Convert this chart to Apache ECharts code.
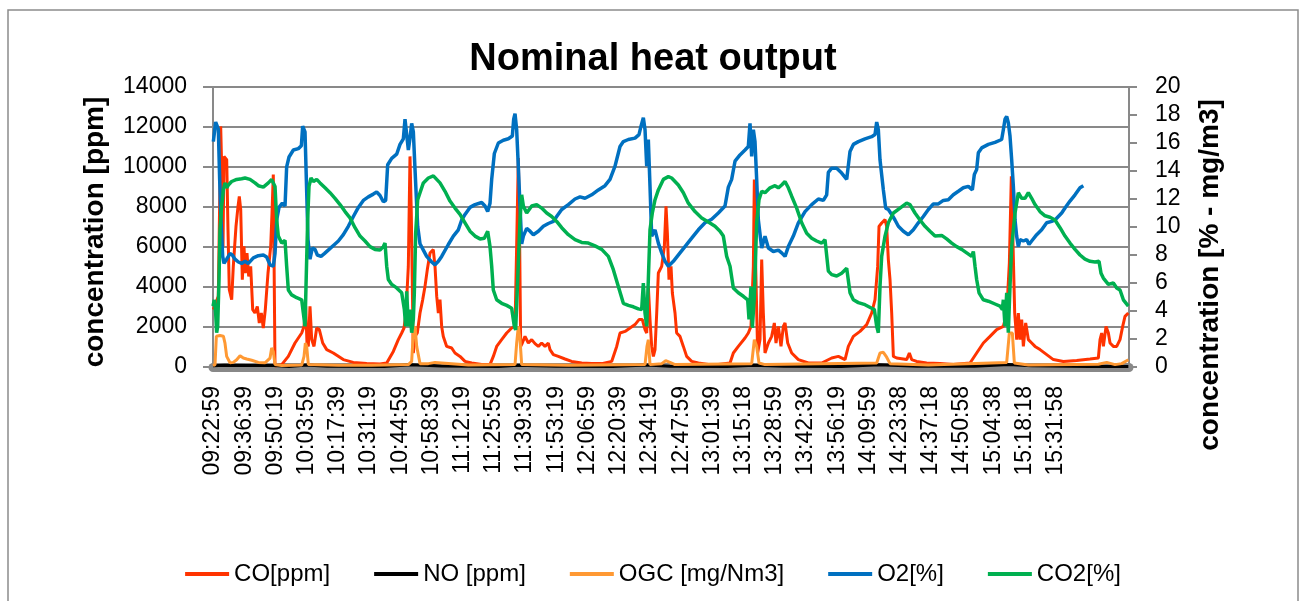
<!DOCTYPE html>
<html>
<head>
<meta charset="utf-8">
<script src="https://cdn.jsdelivr.net/npm/echarts@6/dist/echarts.min.js"></script>
<style>html,body{margin:0;padding:0;background:#fff}#c{width:1306px;height:601px}</style>
</head>
<body>
<div id="c"></div>
<script>
// time axis: seconds since 09:22:59, label every 820 s
var tickLabels = ['09:22:59','09:36:39','09:50:19','10:03:59','10:17:39','10:31:19','10:44:59','10:58:39','11:12:19','11:25:59','11:39:39','11:53:19','12:06:59','12:20:39','12:34:19','12:47:59','13:01:39','13:15:18','13:28:59','13:42:39','13:56:19','14:09:59','14:23:38','14:37:18','14:50:58','15:04:38','15:18:18','15:31:58'];
var tickStep = 820;
var timeEnd = 24063;

var seriesNames = ['CO[ppm]','NO [ppm]','OGC [mg/Nm3]','O2[%]','CO2[%]'];

var coPpm = [[8,2870],[139,3530],[184,9370],[202,12030],[236,9370],[263,6030],[289,10530],[360,10370],[394,6870],[428,3870],[491,3370],[533,5030],[604,7030],[657,8030],[691,8530],[728,7870],[770,4370],[814,6030],[849,4700],[893,5700],[938,4530],[990,5030],[1043,2870],[1103,2700],[1164,3030],[1216,2200],[1269,2700],[1321,1950],[1374,2870],[1445,4700],[1516,6030],[1550,7700],[1584,9620],[1629,50],[1805,120],[1978,530],[2154,1200],[2330,1700],[2391,2030],[2435,3030],[2469,1200],[2504,1030],[2548,3030],[2593,1370],[2653,1030],[2724,1950],[2793,1870],[2882,1200],[2987,870],[3160,700],[3423,370],[3686,230],[4038,170],[4387,150],[4563,200],[4737,780],[4868,1370],[4957,1700],[5018,1950],[5070,2700],[5131,5030],[5175,10530],[5209,7700],[5262,700],[5307,1530],[5367,1700],[5438,2700],[5509,3370],[5569,4030],[5630,4870],[5701,5700],[5787,5870],[5832,5030],[5877,3530],[5920,2700],[5963,3370],[6007,2030],[6050,1530],[6139,1030],[6270,950],[6357,700],[6489,530],[6620,280],[6795,200],[7058,120],[7277,120],[7364,530],[7452,1030],[7583,1370],[7715,1700],[7846,1950],[7934,2030],[7977,6030],[8021,10450],[8048,7700],[8083,1030],[8126,1200],[8196,1530],[8284,1200],[8372,1370],[8459,1170],[8547,1030],[8634,1200],[8722,1030],[8809,1200],[8853,870],[8941,620],[9072,530],[9247,400],[9422,280],[9685,200],[9948,170],[10211,170],[10473,280],[10605,1030],[10692,1700],[10824,1780],[10955,1950],[11086,2120],[11191,2370],[11279,2370],[11349,1870],[11393,1700],[11436,4030],[11480,2370],[11524,1030],[11568,530],[11612,870],[11656,2700],[11699,4700],[11787,5030],[11857,6030],[11901,8030],[11936,6700],[11979,4370],[12032,5030],[12067,3700],[12137,2700],[12180,1700],[12268,1530],[12356,1030],[12443,530],[12575,280],[12750,200],[13012,120],[13275,120],[13582,200],[13669,700],[13800,1030],[13976,1450],[14063,1700],[14133,2030],[14195,5030],[14221,9370],[14256,5030],[14308,700],[14370,1370],[14414,5370],[14457,2700],[14501,700],[14589,1200],[14676,1530],[14746,2200],[14790,1200],[14851,2030],[14921,1030],[14983,2030],[15027,2200],[15097,1200],[15202,700],[15377,370],[15640,200],[15990,200],[16253,450],[16428,530],[16603,370],[16690,1030],[16822,1530],[16997,1780],[17172,2120],[17303,2700],[17391,3370],[17461,5030],[17496,7030],[17566,7200],[17654,7370],[17697,7030],[17741,5370],[17785,4370],[17829,2700],[17873,530],[17960,450],[18223,370],[18293,700],[18354,370],[18485,280],[18748,200],[19098,170],[19449,120],[19887,200],[20061,700],[20237,1200],[20412,1530],[20587,1870],[20762,2030],[20850,2700],[20920,5200],[20972,9530],[21007,6870],[21060,2700],[21113,1370],[21156,2700],[21200,1370],[21244,2370],[21288,1030],[21349,2200],[21419,1370],[21507,1200],[21594,1030],[21726,870],[21901,620],[22076,370],[22338,280],[22689,330],[23039,400],[23258,450],[23302,1370],[23346,1700],[23390,1030],[23460,2030],[23521,1700],[23565,1200],[23652,1030],[23740,1030],[23827,1370],[23897,2030],[23958,2530],[24046,2700]];

var noPpm = [[0,60],[300,90],[900,70],[1600,80],[2000,30],[2450,100],[3000,40],[4500,30],[5200,110],[6000,50],[7500,30],[8000,90],[9000,40],[10500,30],[11400,100],[12000,40],[13500,30],[14200,90],[15000,40],[16500,30],[17500,110],[18500,40],[20000,40],[20900,120],[21500,60],[23000,30],[24046,30]];

var ogcMg = [[0,0.1],[53,0.17],[88,2.2],[184,2.25],[272,2.2],[315,1.7],[359,0.76],[403,0.64],[447,0.3],[534,0.33],[622,0.52],[710,0.8],[797,0.64],[885,0.57],[1016,0.48],[1191,0.33],[1366,0.3],[1498,0.64],[1541,1.36],[1585,1.1],[1629,0.17],[1804,0.1],[2330,0.14],[2391,0.76],[2426,1.7],[2461,1.48],[2505,0.17],[3293,0.12],[4169,0.12],[5132,0.17],[5219,0.4],[5263,2.45],[5307,2.9],[5351,1.48],[5438,0.24],[5657,0.24],[5832,0.33],[6708,0.14],[7934,0.17],[7977,1.7],[8021,2.9],[8065,1.95],[8109,0.17],[9335,0.12],[11349,0.17],[11401,1.48],[11436,1.95],[11480,0.17],[11787,0.24],[11892,0.45],[12006,0.33],[12137,0.17],[14151,0.24],[14221,1.95],[14282,1.48],[14343,0.29],[14501,0.17],[17435,0.29],[17522,1.0],[17610,1.05],[17697,0.7],[17785,0.24],[18792,0.14],[20850,0.33],[20920,2.43],[20999,2.43],[21051,0.29],[21419,0.14],[23258,0.2],[23477,0.33],[23696,0.17],[23872,0.24],[24046,0.52]];

var o2Pct = [[9,16.1],[70,17.5],[105,17.4],[140,17.0],[175,13.4],[210,10.5],[254,7.9],[289,7.4],[359,7.7],[447,8.1],[508,8.0],[578,7.7],[666,7.5],[753,7.4],[841,7.55],[928,7.4],[1060,7.8],[1191,7.95],[1322,8.0],[1410,7.85],[1498,7.3],[1585,7.2],[1629,8.1],[1673,10.5],[1734,11.4],[1822,11.7],[1892,11.5],[1935,14.3],[1997,15.0],[2111,15.5],[2242,15.6],[2321,15.8],[2356,17.2],[2382,17.3],[2417,16.8],[2452,13.4],[2496,9.1],[2548,7.7],[2610,8.5],[2680,8.4],[2741,8.0],[2838,7.9],[2925,8.1],[3048,8.4],[3170,8.7],[3293,9.0],[3424,9.45],[3555,10.05],[3687,10.75],[3818,11.4],[3949,11.9],[4081,12.15],[4212,12.35],[4300,12.5],[4387,12.25],[4475,11.8],[4536,11.9],[4589,14.45],[4694,14.9],[4825,15.2],[4913,15.9],[5000,16.3],[5044,17.7],[5088,16.6],[5132,15.5],[5176,16.35],[5219,17.4],[5263,16.8],[5307,14.1],[5377,10.05],[5438,8.8],[5526,8.35],[5613,7.9],[5745,7.5],[5832,7.3],[5920,7.55],[6007,7.9],[6182,8.75],[6314,9.35],[6445,9.8],[6533,10.5],[6620,10.9],[6751,11.4],[6883,11.6],[7058,11.75],[7146,11.5],[7216,11.1],[7277,11.7],[7321,13.4],[7391,15.25],[7496,16.0],[7627,16.2],[7759,16.3],[7864,16.5],[7899,17.7],[7934,18.1],[7977,16.95],[8021,14.3],[8065,11.5],[8109,8.8],[8153,9.35],[8240,9.9],[8328,9.7],[8415,9.45],[8547,9.7],[8678,10.05],[8809,10.25],[8941,10.4],[9028,10.75],[9160,11.25],[9335,11.6],[9510,12.0],[9641,12.15],[9773,12.05],[9948,12.3],[10123,12.65],[10298,12.95],[10429,13.4],[10561,14.35],[10692,15.75],[10780,16.1],[10911,16.25],[11086,16.35],[11191,16.6],[11244,17.2],[11305,17.8],[11349,16.95],[11393,14.35],[11436,16.25],[11480,12.9],[11524,9.35],[11612,9.8],[11699,8.85],[11787,8.15],[11874,7.55],[11962,7.2],[12093,7.55],[12268,8.15],[12399,8.6],[12575,9.2],[12750,9.8],[12925,10.3],[13100,10.55],[13275,11.0],[13450,11.5],[13538,12.85],[13625,13.4],[13713,14.7],[13844,15.15],[13976,15.5],[14063,15.75],[14107,17.4],[14151,15.05],[14195,16.95],[14238,16.1],[14282,13.4],[14326,10.5],[14414,8.5],[14501,9.35],[14589,8.5],[14720,8.25],[14851,8.35],[14939,8.15],[15027,7.9],[15114,8.6],[15245,9.35],[15377,10.3],[15552,11.1],[15727,11.6],[15902,12.0],[16034,11.9],[16121,12.3],[16165,13.9],[16253,14.2],[16384,14.2],[16515,13.85],[16647,13.4],[16734,15.4],[16822,15.9],[16953,16.1],[17128,16.3],[17303,16.45],[17391,16.6],[17435,17.5],[17478,16.95],[17522,14.8],[17610,12.65],[17671,11.35],[17741,11.25],[17829,10.9],[17916,10.5],[18004,10.05],[18135,9.7],[18266,9.45],[18398,9.8],[18529,10.3],[18660,10.75],[18792,11.25],[18923,11.65],[19054,11.65],[19186,11.9],[19317,11.95],[19448,12.3],[19580,12.55],[19711,12.8],[19843,12.9],[19948,12.65],[20000,13.75],[20061,14.1],[20105,15.3],[20193,15.65],[20368,15.9],[20543,16.05],[20718,16.25],[20762,16.95],[20806,17.7],[20850,17.9],[20893,17.45],[20937,16.5],[20981,14.8],[21025,12.9],[21069,10.5],[21112,9.35],[21156,8.6],[21200,9.1],[21287,9.0],[21375,9.1],[21436,8.75],[21506,9.0],[21638,9.45],[21769,9.8],[21900,10.3],[22032,10.4],[22119,10.5],[22207,10.75],[22295,11.0],[22382,11.35],[22513,11.85],[22645,12.3],[22776,12.8],[22864,12.95]];

var co2Pct = [[0,4.35],[35,4.8],[70,3.85],[96,2.45],[123,2.9],[158,6.25],[184,9.8],[228,11.5],[272,12.65],[315,13.15],[359,12.8],[403,13.0],[490,13.25],[622,13.4],[753,13.45],[841,13.5],[972,13.4],[1103,13.15],[1191,12.95],[1322,12.85],[1454,13.15],[1541,13.4],[1629,12.9],[1673,10.5],[1716,9.35],[1804,8.85],[1892,9.05],[1935,7.2],[1979,5.5],[2067,5.15],[2198,4.95],[2330,4.8],[2373,3.85],[2417,2.9],[2443,5.75],[2487,10.5],[2522,12.9],[2575,13.5],[2636,13.25],[2724,13.4],[2811,13.15],[2943,12.8],[3074,12.45],[3205,12.05],[3337,11.6],[3468,11.1],[3599,10.65],[3731,9.95],[3862,9.35],[3993,9.0],[4125,8.6],[4256,8.4],[4387,8.35],[4475,8.6],[4519,8.85],[4563,7.2],[4606,6.25],[4694,5.9],[4825,5.65],[4957,5.3],[5027,4.1],[5062,2.9],[5088,5.4],[5132,2.9],[5176,4.1],[5219,2.45],[5263,3.4],[5289,5.3],[5324,9.55],[5377,11.95],[5438,12.45],[5526,13.15],[5657,13.5],[5789,13.65],[5832,13.75],[5963,13.15],[6095,12.55],[6226,11.85],[6357,11.35],[6489,10.9],[6620,10.3],[6751,9.7],[6883,9.35],[7014,9.15],[7128,9.2],[7216,9.7],[7277,8.6],[7321,7.2],[7364,5.5],[7452,4.8],[7583,4.55],[7715,4.4],[7846,4.2],[7916,2.9],[7951,2.65],[8004,6.25],[8065,10.5],[8109,12.3],[8153,11.5],[8240,11.0],[8372,11.5],[8503,11.6],[8634,11.35],[8766,11.0],[8897,10.75],[9028,10.4],[9160,9.95],[9335,9.45],[9510,9.1],[9685,8.9],[9860,8.85],[10035,8.65],[10211,8.4],[10386,7.9],[10517,6.95],[10648,5.75],[10780,4.55],[10911,4.4],[11042,4.3],[11174,4.15],[11261,4.1],[11305,6.0],[11349,3.85],[11393,2.9],[11436,6.25],[11480,9.8],[11541,11.0],[11612,11.95],[11699,12.65],[11830,13.4],[11962,13.6],[12049,13.5],[12224,13.0],[12356,12.45],[12487,11.7],[12662,11.1],[12837,10.65],[13012,10.35],[13188,10.05],[13319,9.7],[13406,9.35],[13494,7.9],[13582,7.2],[13669,5.65],[13800,5.3],[13932,5.05],[14046,4.8],[14081,3.4],[14133,5.75],[14168,2.8],[14221,5.05],[14282,10.3],[14343,11.95],[14414,12.55],[14501,12.45],[14633,12.8],[14764,12.95],[14851,12.8],[14939,13.0],[15027,13.25],[15114,12.8],[15202,12.2],[15333,11.35],[15464,10.3],[15596,9.55],[15727,9.2],[15858,9.0],[15990,8.85],[16077,9.1],[16165,6.85],[16253,6.6],[16384,6.5],[16515,6.7],[16647,7.05],[16734,5.3],[16822,4.8],[16953,4.6],[17128,4.45],[17303,4.2],[17373,4.1],[17435,2.9],[17478,2.45],[17522,5.75],[17566,7.9],[17654,9.35],[17741,10.3],[17873,11.0],[18047,11.35],[18222,11.7],[18310,11.6],[18441,11.0],[18573,10.5],[18704,10.05],[18835,9.7],[18967,9.35],[19142,9.4],[19273,9.15],[19405,8.85],[19536,8.6],[19667,8.4],[19799,8.15],[19930,7.9],[19974,8.25],[20018,7.2],[20061,6.25],[20123,5.3],[20237,4.8],[20368,4.7],[20543,4.5],[20674,4.35],[20736,4.1],[20762,4.8],[20806,2.9],[20850,5.3],[20893,2.45],[20937,5.75],[20981,8.6],[21069,11.0],[21156,12.45],[21244,12.05],[21331,12.05],[21419,12.45],[21506,12.05],[21594,11.6],[21725,11.1],[21857,10.8],[21988,10.7],[22119,10.5],[22251,9.95],[22382,9.35],[22513,8.85],[22645,8.4],[22776,8.0],[22907,7.7],[23039,7.55],[23170,7.5],[23275,7.55],[23328,6.7],[23389,6.35],[23520,5.9],[23652,6.0],[23740,5.65],[23827,5.5],[23915,4.8],[24046,4.35]];

var colors = ['#FF3300','#000000','#FF9933','#0070C0','#00B050'];

var chart = echarts.init(document.getElementById('c'), null, {renderer:'canvas'});
var FONT = 'Liberation Sans';
var gridColor = '#898989';

function mk(name, data, yi, color, w) {
  return {name:name, type:'line', data:data, yAxisIndex:yi, showSymbol:false, symbol:'none',
    lineStyle:{color:color, width:w}, itemStyle:{color:color}, animation:false};
}

chart.setOption({
  backgroundColor:'#fff',
  animation:false,
  title:{text:'Nominal heat output', left:'center', top:36,
    textStyle:{fontFamily:FONT, fontWeight:'bold', fontSize:38, color:'#000'}},
  legend:{top:557, left:'center', icon:'rect', itemWidth:44, itemHeight:4, itemGap:44,
    textStyle:{fontFamily:FONT, fontSize:24, color:'#000'},
    data:seriesNames},
  grid:{left:213, right:177, top:87, bottom:234},
  xAxis:{type:'value', min:0, max:timeEnd, interval:tickStep, offset:5,
    axisLine:{show:true, lineStyle:{color:'#888888', width:9}},
    axisTick:{show:false}, splitLine:{show:false},
    axisLabel:{rotate:90, margin:14, fontFamily:FONT, fontSize:23, color:'#000', showMaxLabel:false,
      formatter:function(v){var i=Math.round(v/tickStep); return (Math.abs(v-i*tickStep)<1 && i<tickLabels.length)?tickLabels[i]:'';}}
  },
  yAxis:[
    {type:'value', min:0, max:14000, interval:2000, position:'left',
      axisLine:{show:true, lineStyle:{color:gridColor, width:2}},
      axisTick:{show:true, length:10, lineStyle:{color:gridColor, width:2}},
      splitLine:{show:true, lineStyle:{color:gridColor, width:2}},
      axisLabel:{margin:26, fontFamily:FONT, fontSize:23, color:'#000', formatter:function(v){return String(v);}}},
    {type:'value', min:0, max:20, interval:2, position:'right',
      axisLine:{show:true, lineStyle:{color:gridColor, width:2}},
      axisTick:{show:true, length:8, lineStyle:{color:gridColor, width:2}},
      splitLine:{show:false},
      axisLabel:{margin:26, fontFamily:FONT, fontSize:23, color:'#000'}}
  ],
  graphic:[
    {type:'rect', shape:{x:8, y:10, width:1290, height:640}, style:{fill:'none', stroke:'#8c8c8c', lineWidth:1.5}, silent:true, z:-10},
    {type:'text', x:95, y:232, rotation:Math.PI/2,
      style:{text:'concentration [ppm]', font:'bold 28px "Liberation Sans"', fill:'#000', textAlign:'center', textVerticalAlign:'middle'}},
    {type:'text', x:1210, y:275, rotation:Math.PI/2,
      style:{text:'concentration [% - mg/m3]', font:'bold 28px "Liberation Sans"', fill:'#000', textAlign:'center', textVerticalAlign:'middle'}}
  ],
  series:[
    mk(seriesNames[0], coPpm, 0, colors[0], 3),
    mk(seriesNames[1], noPpm, 0, colors[1], 3),
    mk(seriesNames[2], ogcMg, 1, colors[2], 3),
    mk(seriesNames[3], o2Pct, 1, colors[3], 3.5),
    mk(seriesNames[4], co2Pct, 1, colors[4], 3.5)
  ]
});
</script>
</body>
</html>
